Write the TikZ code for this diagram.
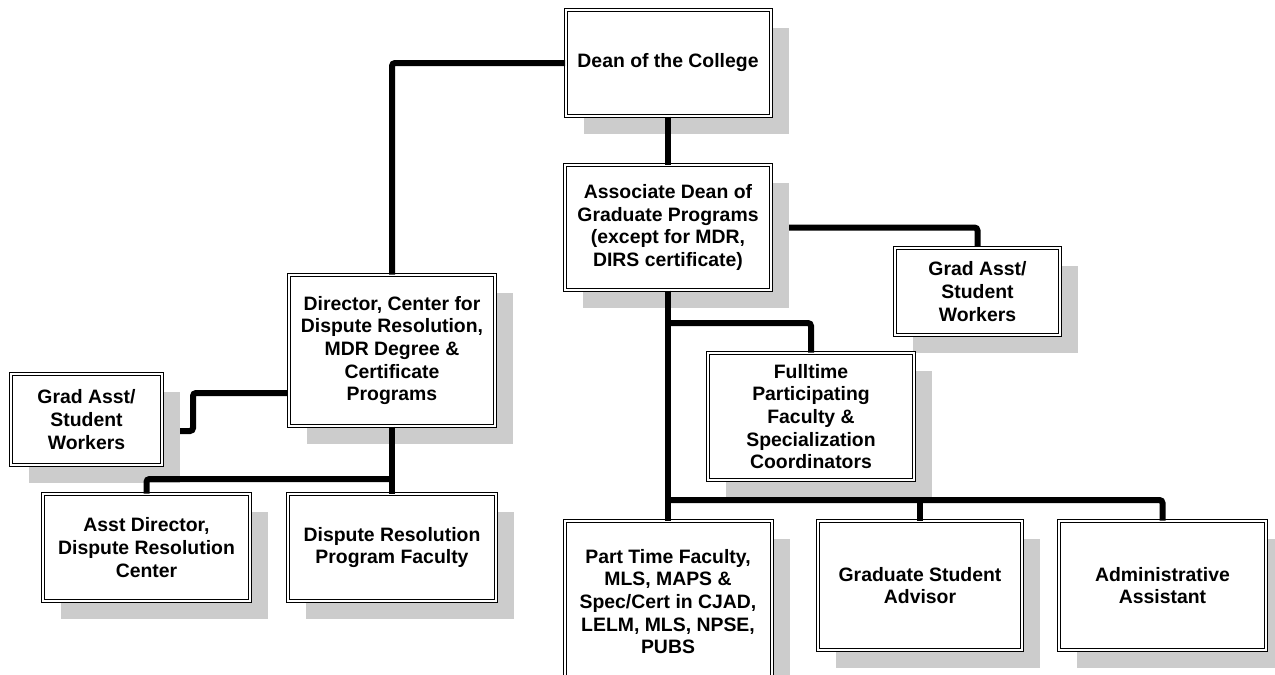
\documentclass[tikz,border=0pt]{standalone}
\usepackage{fontspec}
\setmainfont{Liberation Sans}
\usetikzlibrary{shadows,calc}
\pgfdeclarelayer{background}
\pgfsetlayers{background,main}

\begin{document}
\begin{tikzpicture}[x=1pt, y=-1pt,
  font=\fontsize{19.4}{22.6}\selectfont\bfseries,
  unit/.style={draw, double, line width=1pt, double distance=2pt, fill=white,
    align=center, inner sep=2pt,
    general shadow={fill=black!20, shadow xshift=18pt, shadow yshift=-18pt}},
  conn/.style={line width=6pt, rounded corners=3pt}]
  \useasboundingbox (0,0) rectangle (1275,675);

  % top of the chart
  \node[unit, minimum width=205pt, minimum height=106pt] (dean) at (668,63) {Dean of the College};
  \node[unit, minimum width=206pt, minimum height=125pt] (assoc) at (668,227.5)
    {Associate Dean of\\ Graduate Programs\\ (except for MDR,\\ DIRS certificate)};

  % dispute resolution side
  \node[unit, minimum width=206pt, minimum height=151pt] (dir) at (392,350.5)
    {Director, Center for\\ Dispute Resolution,\\ MDR Degree \&\\ Certificate\\ Programs};
  \node[unit, minimum width=151pt, minimum height=91pt] (gaL) at (86.5,419.5) {Grad Asst/\\ Student\\ Workers};
  \node[unit, minimum width=207pt, minimum height=107pt] (asstdir) at (146.5,547.5)
    {Asst Director,\\ Dispute Resolution\\ Center};
  \node[unit, minimum width=208pt, minimum height=107pt] (drpf) at (392,547.5)
    {Dispute Resolution\\ Program Faculty};

  % graduate programs side
  \node[unit, minimum width=165pt, minimum height=87pt] (gaR) at (977.5,291.5) {Grad Asst/\\ Student\\ Workers};
  \node[unit, minimum width=206pt, minimum height=127pt] (full) at (811,416.5)
    {Fulltime\\ Participating\\ Faculty \&\\ Specialization\\ Coordinators};
  \node[unit, minimum width=207pt, minimum height=161pt] (part) at (668,601.5)
    {Part Time Faculty,\\ MLS, MAPS \&\\ Spec/Cert in CJAD,\\ LELM, MLS, NPSE,\\ PUBS};
  \node[unit, minimum width=204pt, minimum height=129pt] (gsa) at (920,585.5) {Graduate Student\\ Advisor};
  \node[unit, minimum width=207pt, minimum height=129pt] (admin) at (1162.5,585.5) {Administrative\\ Assistant};

  \coordinate (lbus) at (392,479);
  \coordinate (bus) at (668,500);
  \coordinate (fbr) at (668,323);

  % lines behind the shadows
  \begin{pgfonlayer}{background}
    \draw[conn] (assoc.east) -| (gaR.north);
    \draw[conn] (dir.west |- 0,393) -| (193,431) -- (gaL.east |- 0,431);
  \end{pgfonlayer}

  \draw[conn] (dean.west) -| (dir.north);
  \draw[conn] (dean.south) -- (assoc.north);
  \draw[conn] (dir.south) -- (drpf.north);
  \draw[conn] (lbus) -| (asstdir.north);
  \draw[conn] (assoc.south) -- (part.north);
  \draw[conn] (fbr) -| (full.north);
  \draw[conn] (bus) -| (admin.north);
  \draw[conn] (gsa.north) -- (gsa.north |- bus);
\end{tikzpicture}
\end{document}
